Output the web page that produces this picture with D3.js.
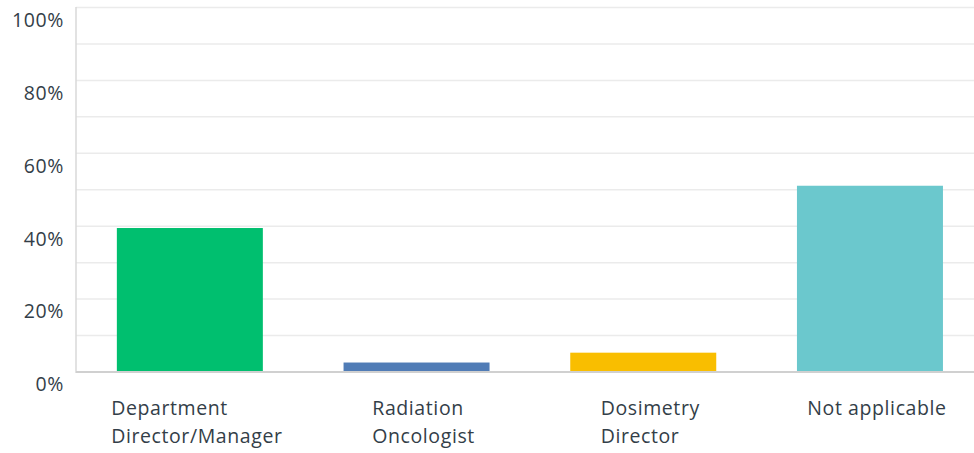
<!DOCTYPE html>
<html>
<head>
<meta charset="utf-8">
<script src="https://cdn.jsdelivr.net/npm/d3@7"></script>
<style>
html,body{margin:0;padding:0;background:#fff;}
svg{display:block;}
</style>
</head>
<body>
<svg id="chart" width="974" height="453"></svg>
<script>
const categories = [["Department", "Director/Manager"], ["Radiation", "Oncologist"], ["Dosimetry", "Director"], ["Not applicable"]];
const values = [39.5, 2.6, 5.3, 51.1];
const colors = ["#00bf6f", "#507cb6", "#f9be00", "#6bc8cd"];
const tickValues = [0, 20, 40, 60, 80, 100];
const gridValues = [10, 20, 30, 40, 50, 60, 70, 80, 90, 100];

const svg = d3.select("#chart");
const font = "'Open Sans', sans-serif";
const textColor = "#333e48";
const fs = 19.5, ls = 0.6;

const y = d3.scaleLinear().domain([0, 100]).range([372, 7.5]);
const x = d3.scaleBand().domain(d3.range(categories.length)).range([76.5, 983.3])
  .paddingInner(0.356).paddingOuter(0.178);

// gridlines
svg.append("g").selectAll("line").data(gridValues).join("line")
  .attr("x1", 76).attr("x2", 974)
  .attr("y1", d => y(d)).attr("y2", d => y(d))
  .attr("stroke", "#ebebeb").attr("stroke-width", 1.5);

// bars
svg.append("g").selectAll("rect").data(values).join("rect")
  .attr("x", (d, i) => x(i))
  .attr("width", x.bandwidth())
  .attr("y", d => y(d))
  .attr("height", d => y(0) - y(d))
  .attr("fill", (d, i) => colors[i]);

// axis lines
svg.append("line").attr("x1", 76).attr("x2", 76).attr("y1", 7).attr("y2", 373)
  .attr("stroke", "#d9d9d9").attr("stroke-width", 1.5);
svg.append("line").attr("x1", 76).attr("x2", 974).attr("y1", y(0)).attr("y2", y(0))
  .attr("stroke", "#d0d0d0").attr("stroke-width", 2);

// y tick labels
svg.append("g").selectAll("text").data(tickValues).join("text")
  .attr("x", 64).attr("y", d => y(d) + 12.5)
  .attr("dy", "0.35em")
  .attr("text-anchor", "end")
  .attr("font-family", font).attr("font-size", fs).attr("letter-spacing", ls)
  .attr("fill", textColor)
  .text(d => d + "%");

// x labels
const lab = svg.append("g").selectAll("g").data(categories).join("g");
lab.each(function(lines, i) {
  const g = d3.select(this);
  const t = g.append("text")
    .attr("font-family", font).attr("font-size", fs).attr("letter-spacing", ls)
    .attr("fill", textColor);
  lines.forEach((l, j) => {
    t.append("tspan").attr("x", 0).attr("y", 415 + j * 28).text(l);
  });
  const w = t.node().getBBox().width;
  const cx = x(i) + x.bandwidth() / 2 + 7;
  g.attr("transform", `translate(${cx - w / 2},0)`);
});
</script>
</body>
</html>
